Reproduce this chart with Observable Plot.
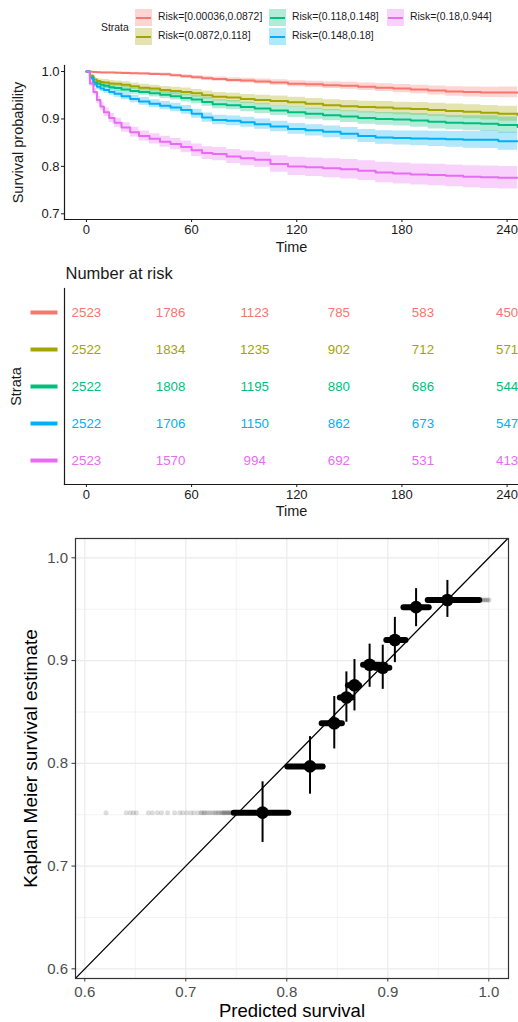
<!DOCTYPE html>
<html><head><meta charset="utf-8">
<script src="https://cdn.jsdelivr.net/npm/d3@7"></script>
<script src="https://cdn.jsdelivr.net/npm/@observablehq/plot@0.6"></script>
<style>
body{margin:0;background:#fff;font-family:"Liberation Sans",Arial,sans-serif;}
#legend{position:relative;width:518px;height:50px;color:#1a1a1a;font-size:10.4px;}
#legend div{position:absolute;white-space:nowrap;}
svg{display:block;}
</style></head><body>
<div id="legend"></div><div id="km"></div><div id="risk"></div><div id="calib"></div>
<script>
// ---------- data ----------
const strata = ["Risk=[0.00036,0.0872]","Risk=(0.0872,0.118]","Risk=(0.118,0.148]","Risk=(0.148,0.18]","Risk=(0.18,0.944]"];
const colors = ["#F8766D","#A3A500","#00BF7D","#00B0F6","#E76BF3"];
const times = [0,2,4,6,8,10,13,16,20,25,30,36,42,48,54,60,66,72,80,88,96,105,115,125,135,145,155,165,175,185,195,205,215,225,235,246];
const surv1 = [1.0,0.9995,0.999,0.9985,0.998,0.998,0.9977,0.9975,0.997,0.9965,0.996,0.995,0.994,0.992,0.990,0.988,0.986,0.984,0.982,0.981,0.979,0.977,0.974,0.973,0.971,0.970,0.968,0.966,0.964,0.962,0.960,0.958,0.957,0.956,0.956,0.955];
const surv2 = [1.0,0.991,0.983,0.980,0.978,0.977,0.975,0.974,0.972,0.969,0.966,0.964,0.961,0.959,0.957,0.954,0.950,0.947,0.945,0.942,0.940,0.938,0.935,0.932,0.929,0.927,0.925,0.924,0.922,0.921,0.919,0.917,0.915,0.913,0.911,0.908];
const surv3 = [1.0,0.988,0.977,0.975,0.972,0.970,0.967,0.965,0.962,0.959,0.957,0.954,0.951,0.948,0.944,0.941,0.936,0.931,0.929,0.925,0.922,0.918,0.914,0.911,0.908,0.905,0.902,0.900,0.899,0.897,0.894,0.892,0.891,0.890,0.887,0.883];
const surv4 = [1.0,0.986,0.973,0.968,0.964,0.961,0.957,0.953,0.948,0.942,0.937,0.932,0.928,0.924,0.919,0.911,0.903,0.898,0.896,0.893,0.889,0.884,0.879,0.876,0.873,0.869,0.864,0.861,0.860,0.859,0.858,0.857,0.856,0.856,0.853,0.853];
const surv5 = [1.0,0.975,0.957,0.940,0.926,0.914,0.902,0.892,0.882,0.872,0.864,0.858,0.852,0.847,0.841,0.834,0.828,0.826,0.821,0.817,0.814,0.805,0.800,0.798,0.796,0.794,0.791,0.787,0.785,0.783,0.782,0.780,0.778,0.777,0.776,0.776];
const ci1 = [0,0.0005,0.001,0.001,0.0012,0.0013,0.0015,0.0016,0.0018,0.002,0.0022,0.0025,0.0028,0.003,0.0034,0.0038,0.0042,0.0045,0.0048,0.005,0.0054,0.0058,0.0063,0.0067,0.007,0.0074,0.0078,0.0082,0.0086,0.009,0.0095,0.010,0.0105,0.011,0.0115,0.012];
const ci2 = [0,0.004,0.005,0.005,0.0055,0.006,0.006,0.0062,0.0065,0.0068,0.007,0.0072,0.0075,0.0078,0.008,0.0083,0.0087,0.009,0.0093,0.0096,0.010,0.0103,0.011,0.0113,0.0117,0.012,0.0124,0.0128,0.0132,0.0136,0.014,0.0144,0.0148,0.0152,0.0156,0.016];
const ci3 = [0,0.004,0.005,0.0052,0.0056,0.006,0.0062,0.0064,0.0067,0.007,0.0072,0.0075,0.0078,0.0081,0.0084,0.0087,0.009,0.0094,0.0097,0.010,0.0103,0.0106,0.011,0.0115,0.012,0.0125,0.013,0.0135,0.014,0.0145,0.015,0.0155,0.016,0.0165,0.017,0.0175];
const ci4 = [0,0.005,0.006,0.0062,0.0065,0.0068,0.007,0.0072,0.0075,0.0078,0.008,0.0083,0.0086,0.0089,0.0092,0.0095,0.0098,0.010,0.0103,0.0106,0.0108,0.011,0.0112,0.0118,0.0124,0.013,0.0136,0.0142,0.0148,0.0154,0.016,0.0168,0.0176,0.0184,0.0192,0.020];
const ci5 = [0,0.006,0.007,0.008,0.0085,0.009,0.0093,0.0096,0.010,0.0103,0.0106,0.011,0.0115,0.012,0.0125,0.013,0.0136,0.014,0.0147,0.0155,0.016,0.0172,0.019,0.0195,0.020,0.0205,0.021,0.0215,0.022,0.0222,0.0226,0.023,0.0233,0.0236,0.0238,0.024];
const timeTicks = [0,60,120,180,240];
const survTicks = [0.7,0.8,0.9,1.0];
const riskTimes = [0,48,96,144,192,240];
const risk1 = [2523,1786,1123,785,583,450];
const risk2 = [2522,1834,1235,902,712,571];
const risk3 = [2522,1808,1195,880,686,544];
const risk4 = [2522,1706,1150,862,673,547];
const risk5 = [2523,1570,994,692,531,413];
// calibration
const calPred = [0.776,0.823,0.847,0.859,0.867,0.882,0.895,0.907,0.928,0.959];
const calKM   = [0.752,0.797,0.839,0.864,0.876,0.896,0.893,0.920,0.952,0.959];
const calLo   = [0.723,0.770,0.814,0.840,0.851,0.874,0.872,0.898,0.933,0.942];
const calHi   = [0.782,0.826,0.865,0.889,0.901,0.916,0.915,0.942,0.970,0.978];
const spreadLo = [0.748,0.801,0.835,0.853,0.861,0.876,0.888,0.899,0.916,0.940];
const spreadHi = [0.802,0.836,0.855,0.865,0.872,0.892,0.902,0.918,0.941,0.991];
const tailPred1 = [0.621,0.641,0.645,0.648,0.651,0.663,0.667,0.672,0.676,0.682,0.689,0.694,0.697,0.701,0.705,0.708,0.712,0.715,0.716,0.718,0.719,0.721,0.723,0.725,0.727,0.729,0.730,0.732,0.733,0.735,0.736,0.737,0.738,0.739,0.740,0.741,0.742,0.743,0.744,0.745,0.746,0.747];
const tailPred10 = [0.992,0.994,0.996,0.998,1.0];
const calTicks = [0.6,0.7,0.8,0.9,1.0];
const calMinor = [0.65,0.75,0.85,0.95];
const diagonal = [0.5,1.1];

const FONT = '"Liberation Sans",Arial,sans-serif';

// ---------- legend ----------
const leg = d3.select("#legend");
leg.append("div").style("left","101px").style("top","22px").text("Strata");
const colX = [135,269,387], rowY = [9,28];
strata.forEach((s,i)=>{
  const c = Math.floor(i/2), r = i%2;
  const key = leg.append("div").style("left",colX[c]+"px").style("top",rowY[r]+"px")
    .style("width","17px").style("height","17px");
  key.append("div").style("left","0").style("top","0").style("width","17px").style("height","17px")
    .style("background",colors[i]).style("opacity","0.3");
  key.append("div").style("left","1px").style("top","7.5px").style("width","15px").style("height","2px")
    .style("background",colors[i]);
  leg.append("div").style("left",(colX[c]+23)+"px").style("top",(rowY[r]+2)+"px").text(s);
});

// ---------- KM plot ----------
const survs = [surv1,surv2,surv3,surv4,surv5], cis = [ci1,ci2,ci3,ci4,ci5];
const kmRows = strata.flatMap((s,i)=>times.map((t,j)=>({strata:s,t,s:survs[i][j],lo:survs[i][j]-cis[i][j],hi:survs[i][j]+cis[i][j]})));
const xDomain = [-12.5,246.5];
const km = Plot.plot({
  width:518,height:208,marginTop:15,marginBottom:39,marginLeft:64,marginRight:0,
  style:{fontFamily:FONT,fontSize:"13px",color:"#1a1a1a",background:"white"},
  x:{domain:xDomain}, y:{domain:[0.688,1.0127]},
  color:{domain:strata,range:colors},
  marks:[
    Plot.areaY(kmRows,{x:"t",y1:"lo",y2:"hi",fill:"strata",fillOpacity:0.3,curve:"step-after"}),
    Plot.lineY(kmRows,{x:"t",y:"s",stroke:"strata",strokeWidth:2,curve:"step-after"}),
    Plot.axisY({ticks:survTicks,tickFormat:d3.format(".1f"),tickSize:3,tickPadding:2,label:null,stroke:"#1a1a1a"}),
    Plot.axisX({ticks:timeTicks,tickSize:3,tickPadding:2,label:null,stroke:"#1a1a1a"}),
    Plot.frame({anchor:"left",stroke:"#1a1a1a",strokeWidth:1.2}),
    Plot.frame({anchor:"bottom",stroke:"#1a1a1a",strokeWidth:1.2}),
    Plot.text(["Time"],{frameAnchor:"bottom",textAnchor:"middle",lineAnchor:"middle",dy:28,fontSize:14.5,fill:"#1a1a1a"}),
    Plot.text(["Survival probability"],{frameAnchor:"left",textAnchor:"middle",lineAnchor:"middle",dx:-46,rotate:-90,fontSize:14.5,fill:"#1a1a1a"})
  ]
});
document.getElementById("km").append(km);

// ---------- risk table ----------
const risks = [risk1,risk2,risk3,risk4,risk5];
const riskRows = strata.flatMap((s,i)=>riskTimes.map((t,j)=>({strata:s,t,n:risks[i][j]})));
const riskPlot = Plot.plot({
  width:518,height:262,marginTop:30,marginBottom:36,marginLeft:64,marginRight:0,
  style:{fontFamily:FONT,fontSize:"13px",color:"#1a1a1a",background:"white"},
  x:{domain:xDomain}, y:{type:"point",domain:strata,padding:0.6,axis:null},
  color:{domain:strata,range:colors},
  marks:[
    Plot.text(riskRows,{x:"t",y:"strata",text:d=>String(d.n),fill:"strata",fontSize:13.3}),
    Plot.vector(strata,{y:d=>d,frameAnchor:"left",dx:-34,rotate:90,length:27,anchor:"start",r:0,stroke:d=>d,strokeWidth:4,strokeLinecap:"butt"}),
    Plot.axisX({ticks:timeTicks,tickSize:3,tickPadding:2,label:null,stroke:"#1a1a1a"}),
    Plot.frame({anchor:"left",stroke:"#1a1a1a",strokeWidth:1.2}),
    Plot.frame({anchor:"bottom",stroke:"#1a1a1a",strokeWidth:1.2}),
    Plot.text(["Number at risk"],{frameAnchor:"top-left",textAnchor:"start",lineAnchor:"middle",dx:1,dy:-15,fontSize:16.5,fill:"#1a1a1a"}),
    Plot.text(["Time"],{frameAnchor:"bottom",textAnchor:"middle",lineAnchor:"middle",dy:27,fontSize:14.5,fill:"#1a1a1a"}),
    Plot.text(["Strata"],{frameAnchor:"left",textAnchor:"middle",lineAnchor:"middle",dx:-48,rotate:-90,fontSize:14.5,fill:"#1a1a1a"})
  ]
});
document.getElementById("risk").append(riskPlot);

// ---------- calibration ----------
const groups = calPred.map((p,i)=>({pred:p,km:calKM[i],lo:calLo[i],hi:calHi[i],sLo:spreadLo[i],sHi:spreadHi[i]}));
const calib = Plot.plot({
  width:518,height:502,marginTop:18,marginBottom:44,marginLeft:75,marginRight:10,
  style:{fontFamily:FONT,fontSize:"15px",color:"#4D4D4D",background:"white"},
  x:{domain:[0.5908,1.0195]}, y:{domain:[0.5906,1.0188]},
  marks:[
    Plot.gridX(calMinor,{stroke:"#EBEBEB",strokeOpacity:1,strokeWidth:0.6}),
    Plot.gridY(calMinor,{stroke:"#EBEBEB",strokeOpacity:1,strokeWidth:0.6}),
    Plot.gridX(calTicks,{stroke:"#EBEBEB",strokeOpacity:1,strokeWidth:1.2}),
    Plot.gridY(calTicks,{stroke:"#EBEBEB",strokeOpacity:1,strokeWidth:1.2}),
    Plot.dot(tailPred1,{x:d=>d,y:()=>calKM[0],r:2.5,fill:"black",fillOpacity:0.13,stroke:null}),
    Plot.dot(tailPred10,{x:d=>d,y:()=>calKM[9],r:2.5,fill:"black",fillOpacity:0.2,stroke:null}),
    Plot.ruleY(groups,{y:"km",x1:"sLo",x2:"sHi",stroke:"black",strokeWidth:6,strokeLinecap:"round"}),
    Plot.ruleX(groups,{x:"pred",y1:"lo",y2:"hi",stroke:"black",strokeWidth:2}),
    Plot.dot(groups,{x:"pred",y:"km",r:6.3,fill:"black",stroke:null}),
    Plot.line(diagonal,{x:d=>d,y:d=>d,stroke:"black",strokeWidth:1.3,clip:true}),
    Plot.axisX({ticks:calTicks,tickFormat:d3.format(".1f"),tickSize:3.5,tickPadding:4,label:null,stroke:"#333",fill:"#4D4D4D"}),
    Plot.axisY({ticks:calTicks,tickFormat:d3.format(".1f"),tickSize:3.5,tickPadding:4,label:null,stroke:"#333",fill:"#4D4D4D"}),
    Plot.frame({stroke:"#333",strokeWidth:1.2}),
    Plot.text(["Predicted survival"],{frameAnchor:"bottom",textAnchor:"middle",lineAnchor:"middle",dy:33,fontSize:18.5,fill:"black"}),
    Plot.text(["Kaplan Meier survival estimate"],{frameAnchor:"left",textAnchor:"middle",lineAnchor:"middle",dx:-45,rotate:-90,fontSize:19,fill:"black"})
  ]
});
document.getElementById("calib").append(calib);
</script>
</body></html>
